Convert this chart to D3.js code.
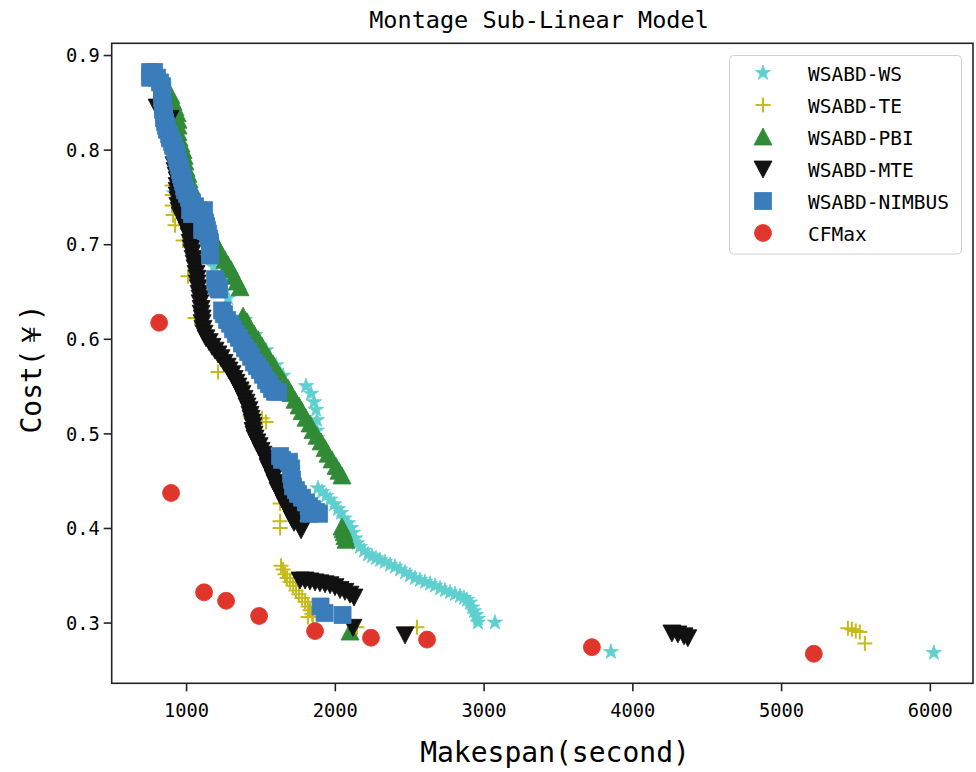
<!DOCTYPE html>
<html><head><meta charset="utf-8">
<script src="https://cdn.jsdelivr.net/npm/d3@7"></script>
<style>
html,body{margin:0;padding:0;background:#fff;}
text{font-family:"DejaVu Sans Mono","Liberation Mono",monospace;fill:#000;}
</style></head>
<body><svg id="chart" width="976" height="772"></svg>
<script>
// ---------- data (makespan in seconds, cost in ¥) ----------
const seriesNames = ["WSABD-WS","WSABD-TE","WSABD-PBI","WSABD-MTE","WSABD-NIMBUS","CFMax"];
const xTicks = [1000,2000,3000,4000,5000,6000];
const yTicks = [0.3,0.4,0.5,0.6,0.7,0.8,0.9];

const wsPoints = [
 [920,0.754],[993,0.731],[1081,0.704],[1128,0.688],[1188,0.676],[1242,0.662],[1282,0.643],
 [1396,0.620],[1464,0.604],[1538,0.588],[1605,0.572],[1652,0.561],
 [1806,0.550],[1840,0.542],[1860,0.533],[1874,0.525],[1880,0.514],[1880,0.503],[1880,0.495],
 [1887,0.442],[1914,0.438],[1941,0.434],[1968,0.430],[1995,0.425],[2021,0.420],[2042,0.416],
 [2062,0.410],[2089,0.405],[2109,0.400],[2122,0.395],[2136,0.389],[2149,0.384],[2169,0.380],
 [2196,0.376],[2223,0.372],[2250,0.370],[2277,0.368],[2304,0.366],[2337,0.364],[2371,0.361],
 [2404,0.359],[2438,0.356],[2472,0.353],[2505,0.350],[2539,0.347],[2572,0.345],[2606,0.343],
 [2640,0.341],[2673,0.339],[2707,0.336],[2740,0.334],[2774,0.332],[2808,0.330],[2841,0.328],
 [2868,0.326],[2888,0.324],[2908,0.321],[2922,0.316],[2935,0.312],[2949,0.308],[2962,0.304],
 [2962,0.300],[3076,0.300],
 [3856,0.269],[6027,0.268]
];
const tePoints = [
 [906,0.762],[906,0.752],[906,0.741],[913,0.731],[926,0.720],[980,0.704],[1013,0.666],
 [1060,0.622],[1094,0.622],[1128,0.609],[1215,0.565],[1376,0.552],[1430,0.518],[1511,0.516],
 [1538,0.512],[1632,0.426],[1632,0.407],[1632,0.400],
 [1638,0.360],[1652,0.356],[1665,0.351],[1679,0.347],[1699,0.343],[1719,0.339],[1739,0.334],
 [1759,0.330],[1780,0.326],[1800,0.322],[1820,0.317],[1833,0.313],[1847,0.309],[1853,0.306],
 [1820,0.306],
 [2149,0.295],[2552,0.295],
 [5449,0.294],[5476,0.293],[5502,0.291],[5529,0.290],[5563,0.278]
];
const pbiPoints = [
 [899,0.857],[913,0.850],[926,0.844],[940,0.838],[946,0.831],[946,0.825],[946,0.818],[953,0.812],
 [966,0.806],[980,0.799],[987,0.793],[993,0.787],[1000,0.780],[1013,0.774],[1020,0.768],
 [1034,0.761],[1047,0.755],[1060,0.749],[1074,0.742],[1087,0.736],[1101,0.730],[1121,0.723],
 [1161,0.713],[1181,0.706],[1202,0.700],[1222,0.694],[1242,0.688],[1262,0.683],[1282,0.678],
 [1302,0.673],[1323,0.666],[1343,0.660],[1363,0.654],
 [1383,0.624],[1410,0.618],[1430,0.611],[1457,0.605],[1484,0.599],[1511,0.592],[1531,0.586],
 [1558,0.580],[1585,0.573],[1605,0.567],[1632,0.561],[1659,0.554],[1685,0.548],[1706,0.542],
 [1732,0.535],[1759,0.529],[1780,0.523],[1806,0.516],[1833,0.510],[1853,0.503],[1880,0.497],
 [1907,0.491],[1934,0.484],[1954,0.478],[1981,0.472],[2008,0.465],[2028,0.460],[2048,0.455],
 [2048,0.401],[2055,0.398],[2062,0.395],[2068,0.391],[2075,0.387],
 [2102,0.290]
];
const mtePoints = [
 [805,0.845],[892,0.833],
 [919,0.784],[926,0.778],[933,0.773],[940,0.768],[940,0.762],[940,0.757],[940,0.752],[946,0.747],
 [946,0.741],[953,0.736],[960,0.731],[980,0.725],[993,0.720],[1007,0.715],[1020,0.709],[1027,0.702],
 [1034,0.696],[1040,0.691],[1047,0.685],[1054,0.680],[1060,0.675],[1067,0.669],[1074,0.664],
 [1074,0.659],[1081,0.654],[1087,0.648],[1094,0.643],[1094,0.638],[1101,0.632],[1101,0.627],
 [1108,0.622],[1108,0.617],[1114,0.611],[1121,0.606],[1134,0.601],[1155,0.597],[1175,0.592],
 [1195,0.588],[1215,0.584],[1235,0.580],[1255,0.575],[1276,0.571],[1289,0.567],[1309,0.563],
 [1323,0.558],[1336,0.554],[1349,0.550],[1363,0.546],[1376,0.542],[1390,0.537],[1403,0.533],
 [1410,0.529],[1423,0.525],[1430,0.520],[1437,0.516],[1444,0.512],[1450,0.508],[1450,0.503],
 [1457,0.499],[1464,0.495],[1477,0.491],[1491,0.487],[1504,0.482],[1517,0.478],[1531,0.474],
 [1544,0.470],[1551,0.465],[1564,0.461],[1578,0.457],[1585,0.453],[1598,0.448],[1612,0.444],
 [1618,0.440],[1632,0.436],[1645,0.432],[1659,0.427],[1672,0.423],[1685,0.419],[1699,0.415],
 [1712,0.410],[1726,0.406],[1773,0.398],
 [1766,0.345],[1800,0.345],[1833,0.344],[1867,0.343],[1900,0.342],[1934,0.341],[1968,0.340],
 [2001,0.338],[2035,0.335],[2068,0.333],[2102,0.330],[2129,0.327],
 [2122,0.295],[2472,0.287],
 [4266,0.289],[4306,0.288],[4347,0.286],[4373,0.284]
];
const nimbusPoints = [
 [758,0.882],[785,0.882],[758,0.876],[805,0.876],[825,0.871],[839,0.867],[839,0.863],[839,0.859],
 [839,0.854],[845,0.850],[845,0.846],[845,0.842],[852,0.838],[852,0.833],[859,0.829],[866,0.825],
 [872,0.821],[886,0.816],[892,0.812],[906,0.808],[913,0.804],[926,0.799],[933,0.795],[940,0.791],
 [946,0.787],[953,0.783],[960,0.778],[966,0.774],[973,0.770],[980,0.766],[987,0.761],[993,0.757],
 [1007,0.753],[1020,0.749],[1040,0.744],[1060,0.740],[1081,0.736],[1101,0.732],[1114,0.728],
 [1128,0.723],[1134,0.719],[1141,0.715],[1148,0.711],[1155,0.706],[1161,0.702],[1161,0.698],
 [1161,0.694],[1161,0.688],[1027,0.736],[1040,0.732],[1121,0.736],[1108,0.715],
 [1195,0.663],[1202,0.659],[1208,0.657],[1215,0.654],[1222,0.652],
 [1242,0.630],[1255,0.626],[1276,0.620],[1296,0.616],[1316,0.610],[1336,0.605],[1356,0.601],
 [1376,0.595],[1396,0.590],[1417,0.586],[1437,0.581],[1457,0.575],[1477,0.571],[1497,0.567],
 [1517,0.562],[1538,0.556],[1558,0.552],[1578,0.547],[1598,0.544],[1618,0.544],
 [1632,0.476],[1645,0.472],[1692,0.470],[1706,0.463],[1706,0.457],[1712,0.451],[1719,0.444],
 [1739,0.440],[1753,0.436],[1780,0.432],[1806,0.427],[1827,0.423],[1847,0.420],[1874,0.417],
 [1894,0.415],[1827,0.415],
 [1904,0.317],[1931,0.310],[2052,0.308]
];
const cfmaxPoints = [
 [819,0.617],[899,0.437],[1121,0.332],[1269,0.323],[1491,0.307],[1867,0.291],
 [2243,0.284],[2620,0.282],[3728,0.274],[5220,0.267]
];

// ---------- layout ----------
const svg = d3.select("#chart");
const M = {left:111.7, right:973, top:43.3, bottom:683.3};
const x = d3.scaleLinear().domain([500,6290]).range([M.left, M.right]);
const y = d3.scaleLinear().domain([0.2358,0.9124]).range([M.bottom, M.top]);

const colors = ["#5fcfcf","#c5bc1b","#318a36","#111111","#3b7dbb","#e0352b"];
const starPath = d3.symbol().type(d3.symbolStar).size(72)();
const shapes = [
  {d: starPath, stroke:false},
  {d: "M-7.5,0H7.5M0,-7.5V7.5", stroke:true},
  {d: "M0,-9L9,8L-9,8Z", stroke:false},
  {d: "M-9,-8L9,-8L0,9Z", stroke:false},
  {d: "M-8.5,-8.5H8.5V8.5H-8.5Z", stroke:false},
  {d: d3.symbol().type(d3.symbolCircle).size(Math.PI*8.5*8.5)(), stroke:false}
];
const allSeries = [wsPoints, tePoints, pbiPoints, mtePoints, nimbusPoints, cfmaxPoints];

svg.append("defs").append("clipPath").attr("id","clip")
  .append("rect").attr("x",M.left).attr("y",M.top)
  .attr("width",M.right-M.left).attr("height",M.bottom-M.top);

const plot = svg.append("g").attr("clip-path","url(#clip)");
allSeries.forEach((pts,i)=>{
  const g = plot.append("g");
  g.selectAll("path").data(pts).enter().append("path")
    .attr("d", shapes[i].d)
    .attr("transform", d=>`translate(${x(d[0])},${y(d[1])})`)
    .attr("fill", shapes[i].stroke ? "none" : colors[i])
    .attr("stroke", colors[i])
    .attr("stroke-width", shapes[i].stroke ? 2 : 0.8);
});

// axes
const xAxis = d3.axisBottom(x).tickValues(xTicks).tickSize(8).tickPadding(4).tickFormat(d3.format("d"));
const yAxis = d3.axisLeft(y).tickValues(yTicks).tickSize(8).tickPadding(4).tickFormat(d3.format(".1f"));
const gx = svg.append("g").attr("transform",`translate(0,${M.bottom})`).call(xAxis);
const gy = svg.append("g").attr("transform",`translate(${M.left},0)`).call(yAxis);
[gx,gy].forEach(g=>{
  g.select(".domain").remove();
  g.selectAll(".tick line").attr("stroke","#222").attr("stroke-width",1.6);
  g.selectAll(".tick text").style("font-family",'"DejaVu Sans Mono",monospace').style("font-size","18.7px").attr("fill","#000");
});
gx.selectAll(".tick text").attr("dy",null).attr("y",33.4);
gy.selectAll(".tick text").attr("dy","0.36em");

// frame
svg.append("rect").attr("x",M.left).attr("y",M.top)
  .attr("width",M.right-M.left).attr("height",M.bottom-M.top)
  .attr("fill","none").attr("stroke","#222").attr("stroke-width",1.6);

// title & labels
svg.append("text").attr("x",539).attr("y",28).attr("text-anchor","middle")
  .style("font-size","23.5px").text("Montage Sub-Linear Model");
svg.append("text").attr("x",555).attr("y",762).attr("text-anchor","middle")
  .style("font-size","28px").text("Makespan(second)");
svg.append("text").attr("transform","translate(41,369) rotate(-90)").attr("text-anchor","middle")
  .style("font-size","28px").text("Cost(￥)");

// legend
const lg = svg.append("g");
lg.append("rect").attr("x",729.5).attr("y",55.5).attr("width",232).attr("height",198.5)
  .attr("rx",4).attr("fill","#fff").attr("fill-opacity",0.8)
  .attr("stroke","#d0d0d0").attr("stroke-width",1);
seriesNames.forEach((name,i)=>{
  const cy = 73 + i*32;
  lg.append("path").attr("d",shapes[i].d).attr("transform",`translate(763,${cy})`)
    .attr("fill", shapes[i].stroke ? "none" : colors[i]).attr("stroke",colors[i])
    .attr("stroke-width", shapes[i].stroke ? 2 : 0.8);
  lg.append("text").attr("x",808).attr("y",cy+7.7).style("font-size","19.5px").text(name);
});
</script></body></html>
